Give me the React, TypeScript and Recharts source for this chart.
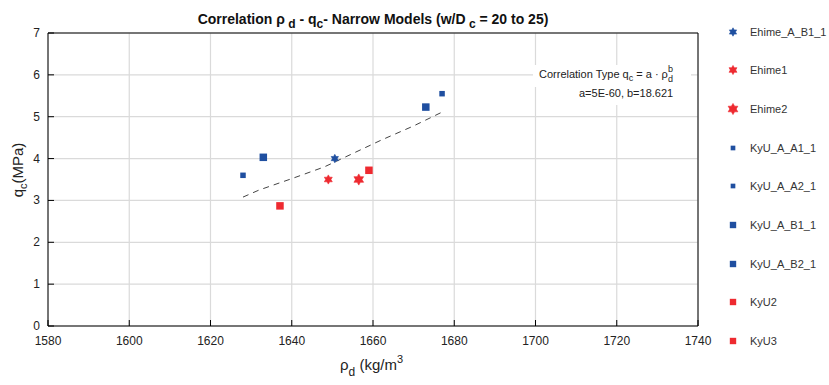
import React from 'react';
import {
  ComposedChart,
  Scatter,
  Line,
  XAxis,
  YAxis,
  CartesianGrid,
  ReferenceLine,
  Legend,
  Customized,
} from 'recharts';

const BLUE = '#1f4fa0';
const RED = '#ee2a30';
const FONT = '"Liberation Sans", Arial, sans-serif';

const xTicks = [1580, 1600, 1620, 1640, 1660, 1680, 1700, 1720, 1740];
const yTicks = [0, 1, 2, 3, 4, 5, 6, 7];

const ehimeAB11 = [{ x: 1650.6, y: 4.0 }];
const ehime1 = [{ x: 1649, y: 3.5 }];
const ehime2 = [{ x: 1656.5, y: 3.5 }];
const kyuAA11 = [{ x: 1628, y: 3.6 }];
const kyuAA21 = [{ x: 1677, y: 5.55 }];
const kyuAB11 = [{ x: 1633, y: 4.03 }];
const kyuAB21 = [{ x: 1673, y: 5.23 }];
const kyu2 = [{ x: 1637.1, y: 2.87 }];
const kyu3 = [{ x: 1659, y: 3.72 }];

const fitRho = [1628, 1632, 1640, 1648, 1655, 1662, 1670, 1677];
const fitQc = [3.08, 3.25, 3.52, 3.8, 4.12, 4.44, 4.78, 5.11];
const fitData = fitRho.map((x, i) => ({ x, y: fitQc[i] }));

type Kind = 'star' | 'square';
const series: { name: string; data: { x: number; y: number }[]; color: string; kind: Kind; size: number }[] = [
  { name: 'Ehime_A_B1_1', data: ehimeAB11, color: BLUE, kind: 'star', size: 4.2 },
  { name: 'Ehime1', data: ehime1, color: RED, kind: 'star', size: 4.6 },
  { name: 'Ehime2', data: ehime2, color: RED, kind: 'star', size: 5.6 },
  { name: 'KyU_A_A1_1', data: kyuAA11, color: BLUE, kind: 'square', size: 5.5 },
  { name: 'KyU_A_A2_1', data: kyuAA21, color: BLUE, kind: 'square', size: 5.5 },
  { name: 'KyU_A_B1_1', data: kyuAB11, color: BLUE, kind: 'square', size: 7.5 },
  { name: 'KyU_A_B2_1', data: kyuAB21, color: BLUE, kind: 'square', size: 7.5 },
  { name: 'KyU2', data: kyu2, color: RED, kind: 'square', size: 7.5 },
  { name: 'KyU3', data: kyu3, color: RED, kind: 'square', size: 7.5 },
];

function starPoints(cx: number, cy: number, r: number) {
  const pts: string[] = [];
  for (let i = 0; i < 12; i++) {
    const ang = -Math.PI / 2 + (i * Math.PI) / 6;
    const rr = i % 2 === 0 ? r : r / Math.sqrt(3);
    pts.push(`${cx + rr * Math.cos(ang)},${cy + rr * Math.sin(ang)}`);
  }
  return pts.join(' ');
}

function Marker({ cx, cy, kind, size, color }: { cx: number; cy: number; kind: Kind; size: number; color: string }) {
  if (cx == null || cy == null) return null;
  if (kind === 'star') {
    return <polygon points={starPoints(cx, cy, size)} fill={color} stroke={color} strokeWidth={0.6} />;
  }
  return <rect x={cx - size / 2} y={cy - size / 2} width={size} height={size} fill={color} />;
}

function XTick(props: any) {
  const { x, y, payload } = props;
  return (
    <g>
      <line x1={x} x2={x} y1={y} y2={y - 6} stroke="#000" strokeWidth={1} />
      <text x={x} y={y + 19} textAnchor="middle" fontSize={12} fill="#222" fontFamily={FONT}>
        {payload.value}
      </text>
    </g>
  );
}

function YTick(props: any) {
  const { x, y, payload } = props;
  return (
    <g>
      <line x1={x} x2={x + 6} y1={y} y2={y} stroke="#000" strokeWidth={1} />
      <text x={x - 8} y={y + 4} textAnchor="end" fontSize={12} fill="#222" fontFamily={FONT}>
        {payload.value}
      </text>
    </g>
  );
}

function Overlay() {
  return (
    <g fontFamily={FONT}>
      <text x={373} y={24} textAnchor="middle" fontWeight="bold" fontSize={14} fill="#111">
        Correlation ρ<tspan dy={4} fontSize={12}> d</tspan>
        <tspan dy={-4}> - q</tspan>
        <tspan dy={4} fontSize={12}>c</tspan>
        <tspan dy={-4}>- Narrow Models (w/D</tspan>
        <tspan dy={4} fontSize={12}> c</tspan>
        <tspan dy={-4}> = 20 to 25)</tspan>
      </text>
      <text x={340} y={370} fontSize={15} fill="#222">
        ρ<tspan dy={6} fontSize={12}>d</tspan>
        <tspan dy={-6}> (kg/m</tspan>
        <tspan dy={-7} fontSize={11}>3</tspan>
      </text>
      <text x={23} y={170} transform="rotate(-90 23 170)" textAnchor="middle" fontSize={15} fill="#222">
        q<tspan dy={4} fontSize={11}>c</tspan>
        <tspan dy={-4}>(MPa)</tspan>
      </text>
      <rect x={533} y={65} width={158} height={22} fill="#fff" />
      <rect x={575} y={87} width={106} height={18} fill="#fff" />
      <text x={539} y={78} fontSize={11} fill="#222">
        Correlation Type q<tspan dy={3} fontSize={9}>c</tspan>
        <tspan dy={-3}> = a · ρ</tspan>
        <tspan dy={4} fontSize={9}>d</tspan>
        <tspan dx={-5} dy={-10} fontSize={9}>b</tspan>
      </text>
      <text x={579} y={97} fontSize={11} fill="#222">
        a=5E-60, b=18.621
      </text>
    </g>
  );
}

function LegendBox() {
  return (
    <div style={{ fontFamily: FONT, fontSize: 11, color: '#333' }}>
      {series.map((s) => (
        <div key={s.name} style={{ display: 'flex', alignItems: 'center', height: 38.7 }}>
          <svg width={16} height={16} style={{ display: 'block', marginRight: 9 }}>
            <Marker cx={8} cy={8} kind={s.kind} size={s.kind === 'star' ? s.size : s.size * 0.85} color={s.color} />
          </svg>
          <span style={{ whiteSpace: 'nowrap' }}>{s.name}</span>
        </div>
      ))}
    </div>
  );
}

export default function App() {
  return (
    <div style={{ position: 'absolute', left: 0, top: 0, width: 829, height: 385, background: '#fff' }}>
      <ComposedChart width={829} height={385} margin={{ top: 33, right: 131, bottom: 29, left: 8 }}>
        <CartesianGrid stroke="#dadada" strokeWidth={1.2} />
        <XAxis
          type="number"
          dataKey="x"
          domain={[1580, 1740]}
          ticks={xTicks}
          interval={0}
          height={30}
          tickSize={0}
          tickMargin={0}
          tickLine={false}
          axisLine={{ stroke: '#000', strokeWidth: 1 }}
          tick={<XTick />}
          allowDataOverflow
        />
        <YAxis
          type="number"
          dataKey="y"
          domain={[0, 7]}
          ticks={yTicks}
          interval={0}
          width={40}
          tickSize={0}
          tickMargin={0}
          tickLine={false}
          axisLine={{ stroke: '#000', strokeWidth: 1 }}
          tick={<YTick />}
          allowDataOverflow
        />
        <ReferenceLine y={7} stroke="#000" strokeWidth={1} />
        <ReferenceLine x={1740} stroke="#000" strokeWidth={1} />
        <Customized component={Overlay} />
        <Line
          data={fitData}
          dataKey="y"
          type="linear"
          stroke="#444"
          strokeWidth={1}
          strokeDasharray="6 5"
          dot={false}
          activeDot={false}
          legendType="none"
          isAnimationActive={false}
        />
        {series.map((s) => (
          <Scatter
            key={s.name}
            name={s.name}
            data={s.data}
            dataKey="y"
            fill={s.color}
            isAnimationActive={false}
            shape={(p: any) => <Marker cx={p.cx} cy={p.cy} kind={s.kind} size={s.size} color={s.color} />}
          />
        ))}
        <Legend
          layout="vertical"
          align="center"
          verticalAlign="middle"
          wrapperStyle={{ left: 725, top: 12.3, width: 104 }}
          content={() => <LegendBox />}
        />
      </ComposedChart>
    </div>
  );
}
